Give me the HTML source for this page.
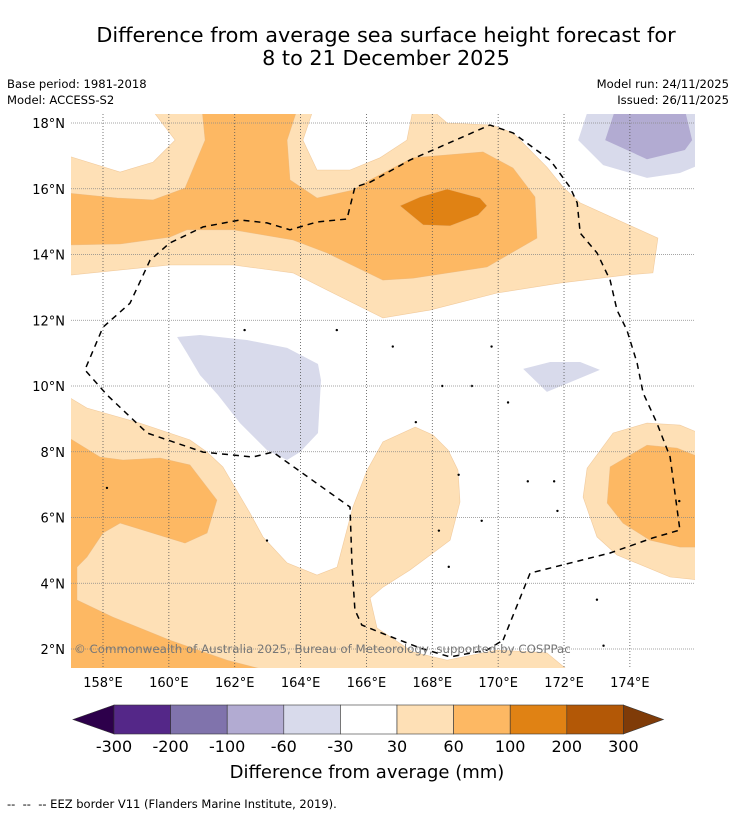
<!DOCTYPE html>
<html><head><meta charset="utf-8"><style>
body{margin:0;background:#fff;width:736px;height:816px;overflow:hidden;font-family:"Liberation Sans","DejaVu Sans",sans-serif}
svg{position:absolute;left:0;top:0}
</style></head><body>
<svg id="chart" width="736" height="816" xmlns="http://www.w3.org/2000/svg">
<text x="386" y="42" font-size="20.8" text-anchor="middle" font-family="DejaVu Sans, sans-serif">Difference from average sea surface height forecast for</text>
<text x="386" y="65" font-size="20.8" text-anchor="middle" font-family="DejaVu Sans, sans-serif">8 to 21 December 2025</text>
<text x="7" y="88" font-size="11.6" font-family="DejaVu Sans, sans-serif">Base period: 1981-2018</text>
<text x="7" y="104" font-size="11.6" font-family="DejaVu Sans, sans-serif">Model: ACCESS-S2</text>
<text x="729" y="88" font-size="11.6" text-anchor="end" font-family="DejaVu Sans, sans-serif">Model run: 24/11/2025</text>
<text x="729" y="104" font-size="11.6" text-anchor="end" font-family="DejaVu Sans, sans-serif">Issued: 26/11/2025</text>
<defs><clipPath id="mapclip"><rect x="71" y="114" width="624" height="554"/></clipPath></defs>
<g id="map" clip-path="url(#mapclip)"></g>
<g id="grid"></g>
<g id="eez" clip-path="url(#mapclip)"></g>
<g id="axes"></g>
<text x="74" y="653" font-size="11.8" fill="#777" font-family="DejaVu Sans, sans-serif">© Commonwealth of Australia 2025, Bureau of Meteorology, supported by COSPPac</text>
<g id="cbar"></g>
<text x="367" y="778" font-size="18" text-anchor="middle" font-family="DejaVu Sans, sans-serif">Difference from average (mm)</text>
<text x="7" y="808" font-size="11.5" font-family="DejaVu Sans, sans-serif" xml:space="preserve">--  --  -- EEZ border V11 (Flanders Marine Institute, 2019).</text>
</svg>
<script>
const lonTicks=[158,160,162,164,166,168,170,172,174];
const latTicks=[2,4,6,8,10,12,14,16,18];
const levelLabels=["-300","-200","-100","-60","-30","30","60","100","200","300"];
const levelColors=["#2d004b","#542788","#8073ac","#b2abd2","#d8daeb","#ffffff","#fee0b6","#fdb863","#e08214","#b35806","#7f3b08"];
const northLight=[[157.03,16.97],[158.52,16.51],[159.52,16.81],[160.19,17.48],[159.49,18.4],[164.38,18.4],[164.07,17.48],[164.5,16.57],[165.5,16.57],[166.41,16.94],[167.23,17.48],[167.41,18.4],[167.99,18.4],[168.45,18.0],[169.81,17.94],[170.45,17.7],[171.48,16.66],[171.97,16.05],[172.49,15.57],[174.85,14.5],[174.7,13.44],[173.91,13.38],[171.88,13.13],[169.97,12.83],[167.93,12.31],[166.5,12.07],[164.8,12.92],[163.77,13.44],[161.95,13.68],[160.03,13.68],[157.06,13.38],[156.9,13.38],[156.9,16.97]];
const northOrange=[[156.9,15.87],[158.43,15.72],[159.52,15.66],[160.49,16.02],[161.1,17.48],[161.01,18.4],[163.89,18.4],[163.59,17.48],[163.68,16.27],[164.5,15.72],[165.59,15.96],[166.11,16.27],[167.41,16.94],[169.54,17.12],[170.45,16.63],[171.12,15.75],[171.18,14.5],[169.66,13.62],[167.41,13.28],[166.5,13.22],[164.8,14.05],[163.77,14.44],[161.95,14.75],[160.55,14.75],[160.03,14.53],[158.52,14.32],[156.9,14.29]];
const northDark=[[167.02,15.48],[167.63,15.75],[168.45,15.99],[169.45,15.72],[169.66,15.48],[169.39,15.2],[168.54,14.87],[167.72,14.9]];
const neLavLight=[[172.73,18.4],[172.43,17.48],[173.19,16.72],[174.52,16.33],[175.52,16.48],[176.1,16.72],[176.1,18.4]];
const neLavMed=[[173.55,18.4],[173.25,17.48],[174.52,16.9],[175.67,17.18],[175.89,17.48],[175.67,18.4]];
const smallLav=[[170.76,10.52],[171.58,10.73],[172.49,10.73],[173.09,10.49],[171.48,9.82]];
const centralLav=[[160.25,11.49],[160.95,11.55],[162.37,11.4],[163.59,11.16],[164.53,10.67],[164.62,10.18],[164.53,8.57],[163.98,7.99],[163.59,7.75],[162.98,8.05],[162.16,8.87],[161.49,9.73],[160.95,10.33],[160.55,11.0]];
const swLight=[[156.9,9.7],[157.51,9.33],[159.12,8.87],[160.64,8.36],[161.16,7.99],[161.64,7.54],[162.46,6.14],[162.86,5.41],[163.59,4.62],[164.5,4.25],[165.11,4.49],[165.59,6.32],[166.02,7.44],[166.5,8.3],[167.48,8.75],[168.02,8.51],[168.48,8.05],[168.78,7.44],[168.84,6.47],[168.54,5.31],[168.02,4.92],[167.32,4.4],[166.5,3.88],[166.11,3.55],[166.32,2.64],[167.41,1.91],[168.45,1.66],[169.97,1.97],[171.48,1.88],[172.18,1.3],[156.9,1.3]];
const swOrange=[[156.9,8.46],[157.91,7.84],[158.61,7.75],[159.73,7.81],[160.64,7.6],[161.46,6.53],[161.16,5.53],[160.49,5.22],[158.52,5.83],[158,5.53],[157.51,4.8],[157.21,4.49],[157.21,3.49],[158.3,2.97],[160.03,2.27],[161.77,1.66],[163.16,1.3],[156.9,1.3]];
const eastLight=[[173.49,8.57],[174.52,8.87],[175.52,8.81],[176.1,8.57],[176.1,4.1],[175.22,4.19],[173.61,4.86],[173.0,5.41],[172.58,6.62],[172.7,7.5]];
const eastOrange=[[174.52,8.2],[175.43,8.11],[176.1,7.84],[176.1,5.1],[175.52,5.1],[174.61,5.31],[173.79,5.83],[173.31,6.44],[173.4,7.54]];
const eezLine=[[170.15,2.27],[170.97,4.31],[173.4,4.92],[174.7,5.38],[175.52,5.62],[175.22,7.84],[174.82,8.87],[174.4,9.79],[174.22,10.7],[173.91,11.7],[173.61,12.31],[173.4,13.22],[173.0,14.05],[172.49,14.65],[172.4,15.57],[172.18,16.05],[171.58,16.87],[170.45,17.7],[169.75,17.94],[167.32,16.87],[166.11,16.2],[165.65,16.05],[165.41,15.08],[164.5,14.99],[163.68,14.75],[162.98,14.96],[162.16,15.05],[161.04,14.84],[160.03,14.35],[159.43,13.83],[158.82,12.52],[158,11.79],[157.45,10.49],[158.12,9.73],[159.34,8.57],[161.04,7.99],[162.55,7.84],[163.16,7.99],[165.5,6.32],[165.56,4.56],[165.65,3.19],[165.86,2.73],[166.62,2.42],[167.63,2.03],[168.54,1.76],[169.66,1.97],[170.15,2.27]];
const islands=[[158.12,6.9],[162.98,5.3],[165.1,11.7],[162.3,11.7],[166.8,11.2],[169.8,11.2],[168.3,10.0],[167.5,8.9],[168.8,7.3],[170.9,7.1],[171.7,7.1],[171.8,6.2],[169.5,5.9],[168.2,5.6],[168.5,4.5],[173.0,3.5],[173.2,2.1],[175.5,6.5],[169.2,10.0],[170.3,9.5]];

const NS="http://www.w3.org/2000/svg";
const X0=103,PX=32.93,Y0=123,PY=32.875;
function xScale(lon){return X0+(lon-158)*PX;}
function yScale(lat){return Y0+(18-lat)*PY;}
function mk(tag,attrs,parent){const e=document.createElementNS(NS,tag);for(const k in attrs)e.setAttribute(k,attrs[k]);parent.appendChild(e);return e;}
function pts(arr){return arr.map(p=>xScale(p[0]).toFixed(1)+","+yScale(p[1]).toFixed(1)).join(" ");}
const map=document.getElementById('map');
const layers=[[northLight,levelColors[6],'north-contour-30-60'],[northOrange,levelColors[7],'north-contour-60-100'],[northDark,levelColors[8],'north-contour-100-200'],
[neLavLight,levelColors[4],'northeast-contour-neg30-neg60'],[neLavMed,levelColors[3],'northeast-contour-neg60-neg100'],[smallLav,levelColors[4],'small-negative-contour'],
[centralLav,levelColors[4],'central-negative-contour'],[swLight,levelColors[6],'southwest-contour-30-60'],[swOrange,levelColors[7],'southwest-contour-60-100'],
[eastLight,levelColors[6],'east-contour-30-60'],[eastOrange,levelColors[7],'east-contour-60-100']];
layers.forEach(l=>{
  const p=mk('polygon',{points:pts(l[0]),fill:l[1],stroke:l[1]==='#d8daeb'||l[1]==='#b2abd2'?'none':'#e8b47a','stroke-width':'0.6','stroke-opacity':'0.6'},map);
  
  
});
islands.forEach(d=>{
  const c=mk('circle',{cx:xScale(d[0]),cy:yScale(d[1]),r:1.2,fill:'#000'},map);
  
  
});
const grid=document.getElementById('grid'),axes=document.getElementById('axes');
lonTicks.forEach(v=>{
  const l=mk('line',{x1:xScale(v),x2:xScale(v),y1:114,y2:668,stroke:'#555','stroke-width':0.8,'stroke-dasharray':'1,2'},grid);
  
  
  const t=mk('text',{x:xScale(v),y:687,'font-size':13,'text-anchor':'middle','font-family':'DejaVu Sans, sans-serif'},axes);
  t.textContent=v+"°E";
  
  
});
latTicks.forEach(v=>{
  const l=mk('line',{x1:71,x2:695,y1:yScale(v),y2:yScale(v),stroke:'#888','stroke-width':0.8,'stroke-dasharray':'1,1'},grid);
  
  
  const t=mk('text',{x:65,y:yScale(v)+5,'font-size':13,'text-anchor':'end','font-family':'DejaVu Sans, sans-serif'},axes);
  t.textContent=v+"°N";
  
  
});
const eez=document.getElementById('eez');
const pl=mk('polyline',{points:pts(eezLine),fill:'none',stroke:'#000','stroke-width':1.5,'stroke-dasharray':'6,5'},eez);


const cb=document.getElementById('cbar');
const cbL=114,cbW=56.6,cbT=705,cbH=29;
const triL=mk('polygon',{points:`73,${cbT+cbH/2} ${cbL},${cbT} ${cbL},${cbT+cbH}`,fill:levelColors[0],stroke:'#333','stroke-width':0.6},cb);


for(let i=1;i<levelColors.length-1;i++){
  const r=mk('rect',{x:cbL+(i-1)*cbW,y:cbT,width:cbW,height:cbH,fill:levelColors[i],stroke:'#333','stroke-width':0.6},cb);
  
  
}
const cbR=cbL+(levelColors.length-2)*cbW;
const triR=mk('polygon',{points:`${cbR},${cbT} ${cbR+40},${cbT+cbH/2} ${cbR},${cbT+cbH}`,fill:levelColors[levelColors.length-1],stroke:'#333','stroke-width':0.6},cb);


levelLabels.forEach((s,i)=>{
  const t=mk('text',{x:cbL+i*cbW,y:752,'font-size':16,'text-anchor':'middle','font-family':'DejaVu Sans, sans-serif'},cb);
  t.textContent=s;
  
  
});
</script>
</body></html>
